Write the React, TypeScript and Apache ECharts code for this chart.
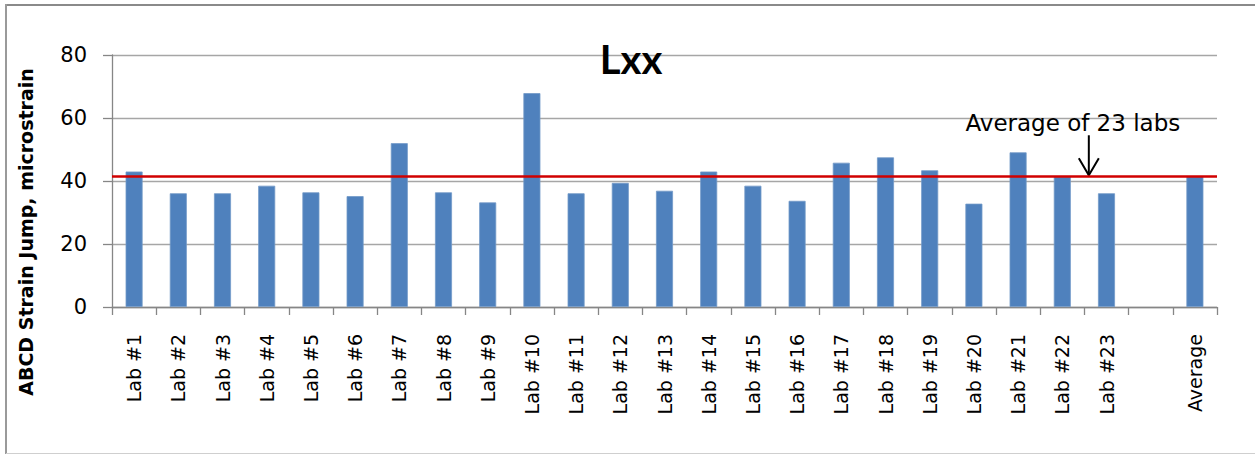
import React, { useEffect, useRef } from "react";
import * as echarts from "echarts";

const categories = [
  "Lab #1", "Lab #2", "Lab #3", "Lab #4", "Lab #5", "Lab #6", "Lab #7", "Lab #8",
  "Lab #9", "Lab #10", "Lab #11", "Lab #12", "Lab #13", "Lab #14", "Lab #15", "Lab #16",
  "Lab #17", "Lab #18", "Lab #19", "Lab #20", "Lab #21", "Lab #22", "Lab #23", "", "Average",
];
const values: (number | null)[] = [
  43, 36.1, 36.1, 38.5, 36.4, 35.2, 52, 36.4, 33.2, 67.9, 36.1, 39.4, 36.9, 43, 38.5, 33.7,
  45.8, 47.5, 43.4, 32.8, 49.1, 41.4, 36.1, null, 41.5,
];
const averageLine = 41.5;
const yTicks = { min: 0, max: 80, interval: 20 };
const titleText = "Lxx";
const yTitle = "ABCD Strain Jump, microstrain";
const noteText = "Average of 23 labs";

const FONT = "DejaVu Sans";

export default function App() {
  const ref = useRef<HTMLDivElement>(null);
  useEffect(() => {
    if (!ref.current) return;
    const chart = echarts.init(ref.current, null, { renderer: "svg" });
    chart.setOption({
      animation: false,
      backgroundColor: "#ffffff",
      grid: { left: 112, right: 38, top: 55, bottom: 148 },
      xAxis: {
        type: "category",
        data: categories,
        boundaryGap: true,
        axisLine: { show: true, lineStyle: { color: "#868686", width: 1.3 } },
        axisTick: { show: true, length: 8, lineStyle: { color: "#868686", width: 1.3 } },
        axisLabel: {
          rotate: 90,
          interval: 0,
          margin: 27,
          color: "#000",
          fontFamily: FONT,
          fontSize: 19,
        },
        splitLine: { show: false },
      },
      yAxis: {
        type: "value",
        min: yTicks.min,
        max: yTicks.max,
        interval: yTicks.interval,
        axisLine: { show: true, lineStyle: { color: "#868686", width: 1.3 } },
        axisTick: { show: true, length: 9, lineStyle: { color: "#868686", width: 1.3 } },
        axisLabel: { margin: 25, color: "#000", fontFamily: FONT, fontSize: 21 },
        splitLine: { show: true, lineStyle: { color: "#a6a6a6", width: 1.3 } },
      },
      series: [
        {
          type: "bar",
          data: values,
          barWidth: 17,
          itemStyle: { color: "#4f81bd", borderColor: "#7299c8", borderWidth: 0.8 },
          markLine: {
            silent: true,
            symbol: "none",
            label: { show: false },
            lineStyle: { color: "#d10000", width: 2.5, type: "solid" },
            data: [{ yAxis: averageLine }],
          },
        },
      ],
    });

    const tipY = chart.convertToPixel({ yAxisIndex: 0 }, averageLine) as number;
    const x22 = chart.convertToPixel({ xAxisIndex: 0 }, "Lab #22") as number;
    const x23 = chart.convertToPixel({ xAxisIndex: 0 }, "Lab #23") as number;
    const ax = x22 + (x23 - x22) * 0.6;
    const left0 = chart.convertToPixel({ xAxisIndex: 0 }, "Lab #1") as number;
    const y0 = chart.convertToPixel({ yAxisIndex: 0 }, 0) as number;
    const y80 = chart.convertToPixel({ yAxisIndex: 0 }, 80) as number;
    const ymid = (y0 + y80) / 2;

    chart.setOption({
      graphic: [
        { type: "line", shape: { x1: 7, y1: 5, x2: 1255, y2: 5 }, style: { stroke: "#8a8a8a", lineWidth: 2 } },
        { type: "line", shape: { x1: 6, y1: 4, x2: 6, y2: 454 }, style: { stroke: "#9a9a9a", lineWidth: 2 } },
        { type: "line", shape: { x1: 6, y1: 453.5, x2: 1255, y2: 453.5 }, style: { stroke: "#cfcfcf", lineWidth: 1 } },
        {
          type: "text",
          x: 631,
          y: 59,
          style: {
            text: titleText,
            fontFamily: "Lato",
            fontWeight: "bold",
            fontSize: 40,
            fill: "#000",
            textAlign: "center",
            textVerticalAlign: "middle",
          },
        },
        {
          type: "text",
          x: left0 - 108,
          y: ymid + 51,
          rotation: Math.PI / 2,
          style: {
            text: yTitle,
            fontFamily: FONT,
            fontWeight: "bold",
            fontSize: 19,
            fill: "#000",
            textAlign: "center",
            textVerticalAlign: "middle",
          },
        },
        {
          type: "text",
          x: ax - 16,
          y: tipY - 53,
          style: {
            text: noteText,
            fontFamily: FONT,
            fontSize: 23,
            fill: "#000",
            textAlign: "center",
            textVerticalAlign: "middle",
          },
        },
        {
          type: "line",
          shape: { x1: ax, y1: tipY - 41, x2: ax, y2: tipY - 1 },
          style: { stroke: "#000", lineWidth: 2 },
        },
        {
          type: "polyline",
          shape: { points: [[ax - 10, tipY - 18], [ax, tipY - 1], [ax + 10, tipY - 18]] },
          style: { stroke: "#000", lineWidth: 2, fill: null },
        },
      ],
    });
    return () => chart.dispose();
  }, []);
  return (
    <div
      ref={ref}
      style={{ position: "fixed", left: 0, top: 0, width: 1255, height: 455, background: "#fff" }}
    />
  );
}
